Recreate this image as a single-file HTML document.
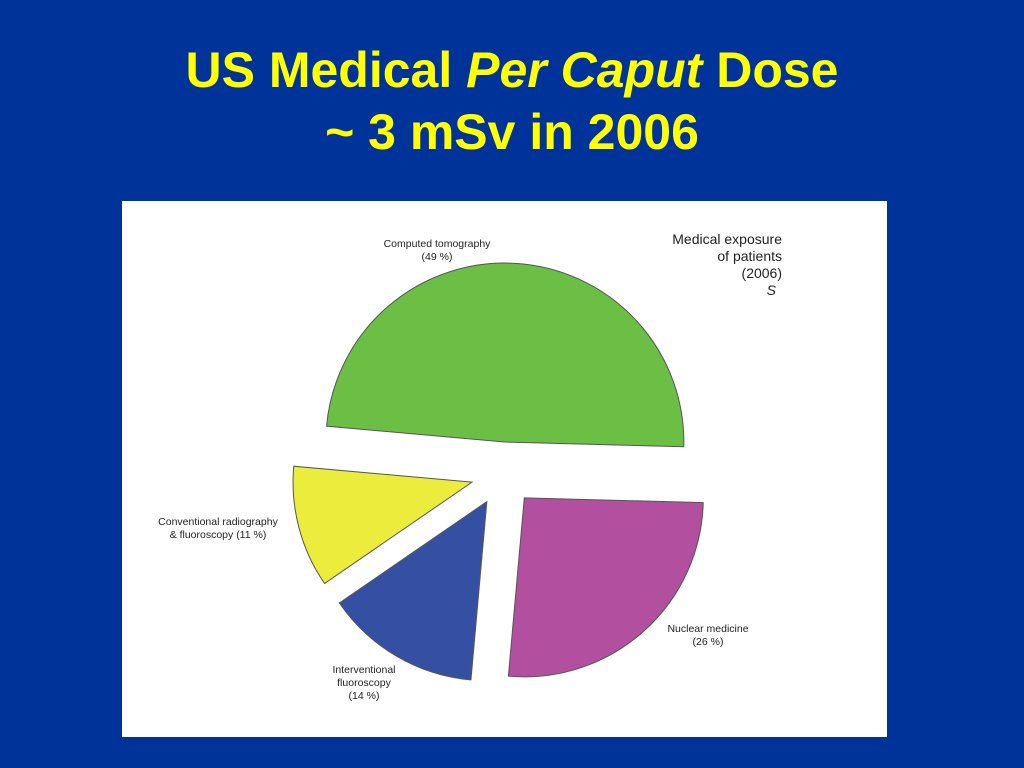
<!DOCTYPE html>
<html><head><meta charset="utf-8">
<style>
html,body{margin:0;padding:0;width:1024px;height:768px;background:#003399;overflow:hidden}
.title{position:absolute;left:0;width:1024px;text-align:center;color:#ffff00;font-family:"Liberation Sans",sans-serif;font-weight:bold;font-size:50px;line-height:56px}
#panel{position:absolute;left:122px;top:201px;width:765px;height:536px;background:#fff}
</style></head>
<body>
<div class="title" style="top:42px">US Medical <i>Per Caput</i> Dose</div>
<div class="title" style="top:104px">~ 3 mSv in 2006</div>
<svg id="panel" width="765" height="536" viewBox="122 201 765 536">
<g font-family="Liberation Sans, sans-serif" fill="#222">
<text x="782" y="244" text-anchor="end" font-size="14">Medical exposure</text>
<text x="782" y="261" text-anchor="end" font-size="14">of patients</text>
<text x="782" y="278" text-anchor="end" font-size="14">(2006)</text>
<text x="776" y="295" text-anchor="end" font-size="14" font-style="italic">S</text>
</g>
<g id="slices"></g>
<g id="labels" font-family="Liberation Sans, sans-serif" font-size="10.5" fill="#222"></g>
</svg>
<script>
const categories=["Nuclear medicine","Interventional fluoroscopy","Conventional radiography & fluoroscopy","Computed tomography"];
const values=[26,14,11,49];
const colors=["#b24f9f","#3550a2","#ecec3c","#6cbf45"];
const labelLines=[["Nuclear medicine","(26 %)"],["Interventional","fluoroscopy","(14 %)"],["Conventional radiography","& fluoroscopy (11 %)"],["Computed tomography","(49 %)"]];
const cx=503,cy=474,R=179,explode=32,startAngle=1.5*Math.PI/180;
const labelPos=[[708,632],[364,673],[218,525],[437,247]];
const ns="http://www.w3.org/2000/svg";
const total=values.reduce((a,b)=>a+b,0);
let a0=startAngle;
const sg=document.getElementById('slices'),lg=document.getElementById('labels');
values.forEach((v,i)=>{
  const a1=a0+v/total*2*Math.PI, mid=(a0+a1)/2;
  const ox=cx+explode*Math.cos(mid), oy=cy+explode*Math.sin(mid);
  const x0=ox+R*Math.cos(a0),y0=oy+R*Math.sin(a0),x1=ox+R*Math.cos(a1),y1=oy+R*Math.sin(a1);
  const p=document.createElementNS(ns,'path');
  p.setAttribute('d',`M${ox},${oy}L${x0},${y0}A${R},${R} 0 ${a1-a0>Math.PI?1:0} 1 ${x1},${y1}Z`);
  p.setAttribute('fill',colors[i]);p.setAttribute('stroke','#555');p.setAttribute('stroke-width','1');
  
  
  sg.appendChild(p);
  const t=document.createElementNS(ns,'text');
  t.setAttribute('text-anchor','middle');
  
  
  labelLines[i].forEach((ln,k)=>{const s=document.createElementNS(ns,'tspan');s.setAttribute('x',labelPos[i][0]);s.setAttribute('y',labelPos[i][1]+k*13);s.textContent=ln;t.appendChild(s);});
  lg.appendChild(t);
  a0=a1;
});
</script>
</body></html>
